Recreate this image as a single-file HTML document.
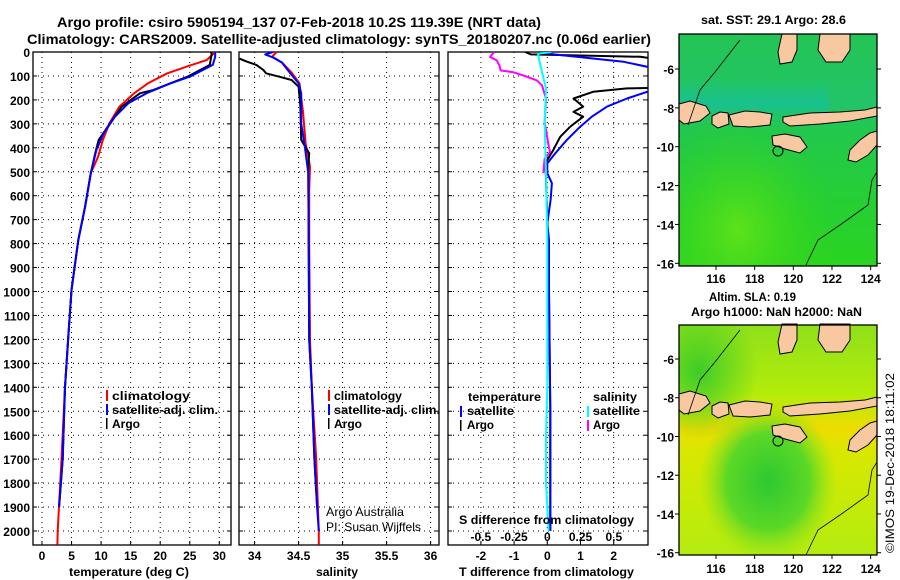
<!DOCTYPE html>
<html><head><meta charset="utf-8"><style>
html,body{margin:0;padding:0;background:#fff;width:900px;height:580px;overflow:hidden}
svg{display:block;font-family:"Liberation Sans",sans-serif;font-weight:bold}
</style></head><body>
<svg id="chart" width="900" height="580" viewBox="0 0 900 580" xmlns="http://www.w3.org/2000/svg">
<defs>
<clipPath id="c1"><rect x="33" y="52" width="198" height="493"/></clipPath>
<clipPath id="c2"><rect x="239" y="52" width="200" height="493"/></clipPath>
<clipPath id="c3"><rect x="448" y="52" width="200" height="493"/></clipPath>
<radialGradient id="g1a" cx="0.3" cy="0.85" r="0.5"><stop offset="0" stop-color="#5ee21a"/><stop offset="1" stop-color="#2fd41c" stop-opacity="0"/></radialGradient>
<linearGradient id="g1" x1="0" y1="0" x2="0" y2="1"><stop offset="0" stop-color="#24c454"/><stop offset="0.3" stop-color="#22c468"/><stop offset="0.42" stop-color="#22c84c"/><stop offset="1" stop-color="#2ad420"/></linearGradient>
<linearGradient id="g1b" x1="0" y1="0" x2="0" y2="1"><stop offset="0" stop-color="#10c0b0" stop-opacity="0"/><stop offset="0.6" stop-color="#10c0b0" stop-opacity="0.55"/><stop offset="1" stop-color="#10c0b0" stop-opacity="0"/></linearGradient>
<linearGradient id="g2" x1="0" y1="0" x2="0" y2="1"><stop offset="0" stop-color="#8ee01a"/><stop offset="0.3" stop-color="#b4ec0a"/><stop offset="0.45" stop-color="#eedc00"/><stop offset="0.55" stop-color="#d8e800"/><stop offset="1" stop-color="#b4ec10"/></linearGradient>
<radialGradient id="g2b" cx="0.45" cy="0.68" r="0.35"><stop offset="0" stop-color="#2ec832"/><stop offset="0.6" stop-color="#5cd826"/><stop offset="1" stop-color="#8ee01a" stop-opacity="0"/></radialGradient>
<radialGradient id="g2c" cx="0.1" cy="0.2" r="0.3"><stop offset="0" stop-color="#3ccc28"/><stop offset="1" stop-color="#3ccc28" stop-opacity="0"/></radialGradient>
</defs>

<text x="57" y="27" font-size="14" textLength="484" lengthAdjust="spacingAndGlyphs">Argo profile: csiro 5905194_137 07-Feb-2018 10.2S 119.39E (NRT data)</text>
<text x="27" y="44" font-size="14" textLength="624" lengthAdjust="spacingAndGlyphs">Climatology: CARS2009. Satellite-adjusted climatology: synTS_20180207.nc (0.06d earlier)</text>

<g id="grid"></g>
<g id="axes"></g>
<g id="series"></g>

<g font-size="12">
<rect x="106" y="390" width="2" height="11" fill="#f00"/><text x="112" y="400" textLength="78" lengthAdjust="spacingAndGlyphs">climatology</text>
<rect x="106" y="404" width="2" height="11" fill="#00f"/><text x="112" y="414" textLength="106" lengthAdjust="spacingAndGlyphs">satellite-adj. clim.</text>
<rect x="106" y="418" width="1.5" height="11" fill="#000"/><text x="112" y="428" textLength="28" lengthAdjust="spacingAndGlyphs">Argo</text>
</g>
<g font-size="12">
<rect x="328" y="390" width="2" height="11" fill="#f00"/><text x="334" y="400" textLength="68" lengthAdjust="spacingAndGlyphs">climatology</text>
<rect x="328" y="404" width="2" height="11" fill="#00f"/><text x="334" y="414" textLength="106" lengthAdjust="spacingAndGlyphs">satellite-adj. clim.</text>
<rect x="328" y="418" width="1.5" height="11" fill="#000"/><text x="334" y="428" textLength="28" lengthAdjust="spacingAndGlyphs">Argo</text>
<text x="326" y="516" font-weight="normal" textLength="78" lengthAdjust="spacingAndGlyphs">Argo Australia</text>
<text x="326" y="531" font-weight="normal" textLength="95" lengthAdjust="spacingAndGlyphs">PI: Susan Wijffels</text>
</g>
<g font-size="12">
<text x="468" y="401" textLength="73" lengthAdjust="spacingAndGlyphs">temperature</text>
<rect x="460" y="406" width="2" height="11" fill="#00f"/><text x="467" y="415" textLength="47" lengthAdjust="spacingAndGlyphs">satellite</text>
<rect x="460" y="420" width="1.5" height="11" fill="#000"/><text x="467" y="429" textLength="27" lengthAdjust="spacingAndGlyphs">Argo</text>
<text x="593" y="401" textLength="44" lengthAdjust="spacingAndGlyphs">salinity</text>
<rect x="587" y="406" width="2" height="11" fill="#0ff"/><text x="593" y="415" textLength="47" lengthAdjust="spacingAndGlyphs">satellite</text>
<rect x="587" y="420" width="2" height="11" fill="#f0f"/><text x="593" y="429" textLength="27" lengthAdjust="spacingAndGlyphs">Argo</text>
</g>

<text x="69" y="576" font-size="12" textLength="120" lengthAdjust="spacingAndGlyphs">temperature (deg C)</text>
<text x="316" y="576" font-size="12" textLength="42" lengthAdjust="spacingAndGlyphs">salinity</text>
<text x="459" y="576" font-size="12" textLength="175" lengthAdjust="spacingAndGlyphs">T difference from climatology</text>
<text x="459" y="524" font-size="12" textLength="175" lengthAdjust="spacingAndGlyphs">S difference from climatology</text>

<g>
<text x="701" y="24" font-size="12" textLength="145" lengthAdjust="spacingAndGlyphs">sat. SST: 29.1 Argo: 28.6</text>
<rect x="679" y="34" width="198" height="232" fill="url(#g1)"/>
<rect x="679" y="34" width="198" height="232" fill="url(#g1a)"/>
<rect x="679" y="80" width="150" height="40" fill="url(#g1b)"/>
<g id="isl1"></g>
</g>
<g>
<text x="709" y="301" font-size="12" textLength="87" lengthAdjust="spacingAndGlyphs">Altim. SLA: 0.19</text>
<text x="691" y="316" font-size="12" textLength="171" lengthAdjust="spacingAndGlyphs">Argo h1000: NaN h2000: NaN</text>
<rect x="679" y="325" width="198" height="230" fill="url(#g2)"/>
<rect x="679" y="325" width="198" height="230" fill="url(#g2b)"/>
<rect x="679" y="325" width="198" height="230" fill="url(#g2c)"/>
<g id="isl2"></g>
</g>
<g id="maxes"></g>
<text transform="translate(894,553) rotate(-90)" font-size="12" font-weight="normal" textLength="180" lengthAdjust="spacingAndGlyphs">©IMOS 19-Dec-2018 18:11:02</text>

<script>
const depthTicks = [0,100,200,300,400,500,600,700,800,900,1000,1100,1200,1300,1400,1500,1600,1700,1800,1900,2000];
const tempTicks = [0,5,10,15,20,25,30];
const salTicks = [34,34.5,35,35.5,36];
const salTickLabels = ["34","34.5","35","35.5","36"];
const tdiffTicks = [-2,-1,0,1,2];
const sdiffTicks = [-0.5,-0.25,0,0.25,0.5];
const sdiffTickLabels = ["-0.5","-0.25","0","0.25","0.5"];

const climTDepth = [0,10,33,61,89,131,172,228,298,367,437,506,646,785,994,1189,1400,1700,2000,2057];
const climT =      [29.2,28.9,27.9,24.5,21.2,17.9,15.6,13.1,11.4,10.3,9.5,8.25,7.3,6.15,5.0,4.45,3.9,3.3,2.65,2.6];
const satTDepth = [0,20,54,103,131,172,214,270,340,409,506,646,785,994,1189,1400,1700,1900];
const satT =      [29.3,29.3,28.9,25.0,21.7,17.7,14.6,12.35,10.4,9.2,8.25,7.3,6.15,5.0,4.45,3.9,3.5,2.9];
const argoTDepth = [0,10,54,103,159,172,228,298,367,423,506,646,785,994,1189,1400,1700,1900];
const argoT =      [28.6,28.7,28.4,24.6,18.8,16.6,13.5,11.5,9.6,9.0,8.25,7.3,6.15,5.0,4.45,3.9,3.5,2.9];

const climSDepth = [0,19,44,86,131,250,380,479,576,800,1200,1400,1700,2000,2057];
const climS =      [34.25,34.20,34.31,34.42,34.51,34.55,34.58,34.63,34.62,34.62,34.63,34.65,34.70,34.73,34.73];
const satSDepth = [0,10,23,44,86,131,172,298,395,506,1200,1400,1700,1900,2000];
const satS =      [34.21,34.12,34.21,34.31,34.40,34.50,34.53,34.53,34.57,34.61,34.62,34.65,34.68,34.71,34.73];
const argoSDepth = [28,40,54,75,89,103,117,145,228,367,423,479,506,1200,1400,1700,1900];
const argoS =      [33.83,33.91,34.02,34.10,34.13,34.28,34.42,34.50,34.52,34.53,34.62,34.61,34.61,34.62,34.65,34.68,34.71];

const satTdDepth = [0,10,41,70,153,194,228,270,312,367,423,465,506,548,618,715,785,1000,1500,2000];
const satTd =      [-0.2,0.2,2.3,3.3,3.3,2.4,1.8,1.34,0.99,0.59,0.24,0.0,0.0,0.14,0.1,0.0,0.05,0.05,0.09,0.09];
const argoTdDepth = [0,10,20,30,150,152,166,194,228,250,270,312,354,409,451,480,700,1000,1500,2000];
const argoTd =      [-0.66,-0.5,2.8,3.3,3.3,2.4,1.38,0.79,1.08,0.79,1.08,0.69,0.39,0.18,0.0,-0.05,0.0,0.05,0.09,0.09];
const satSdDepth = [0,7,35,84,153,292,500,785,1000,1400,1600,1800,2000];
const satSd =      [0.03,-0.07,-0.06,-0.04,-0.01,-0.02,-0.01,0.0,0.0,0.0,-0.01,-0.01,0.01];
const argoSdDepth = [0,21,35,56,77,84,98,118,139,195,292,390,418,446,506];
const argoSd =      [-0.4,-0.43,-0.38,-0.36,-0.35,-0.26,-0.18,-0.08,-0.04,-0.01,-0.02,0.01,0.02,-0.02,-0.03];

const mapLon = [116,118,120,122,124];
const mapLat = [-6,-8,-10,-12,-14,-16];

const yD = d => 52 + d*0.2395;
const xT = t => 42 + t*5.91;
const xS = s => 254.6 + (s-34)*88;
const xTd = t => 547.3 + t*33.2;
const xSd = s => 547.3 + s*133;
const lonX = l => 716 + (l-116)*19.33;
const lat1 = l => 69 + (-6-l)*19.43;
const lat2 = l => 359 + (-6-l)*19.37;

const NS = 'http://www.w3.org/2000/svg';
function mk(tag, attrs, parent){ const e=document.createElementNS(NS,tag); for(const k in attrs) e.setAttribute(k,attrs[k]); parent.appendChild(e); return e; }
const grid=document.getElementById('grid'), axes=document.getElementById('axes'), series=document.getElementById('series');

const panels=[{x0:33,x1:231,ticks:tempTicks,labels:tempTicks.map(String),sx:xT,name:'temperature'},
              {x0:239,x1:439,ticks:salTicks,labels:salTickLabels,sx:xS,name:'salinity'},
              {x0:448,x1:648,ticks:tdiffTicks,labels:tdiffTicks.map(String),sx:xTd,name:'t-difference'}];
panels.forEach(p=>{
  depthTicks.forEach(d=>{ if(d===0) return;
    const l=mk('line',{x1:p.x0,x2:p.x1,y1:yD(d),y2:yD(d),stroke:'#000','stroke-width':1,'stroke-dasharray':'1,4'},grid);
    
    
    mk('line',{x1:p.x0,x2:p.x0+4,y1:yD(d),y2:yD(d),stroke:'#000'},axes);
    mk('line',{x1:p.x1-4,x2:p.x1,y1:yD(d),y2:yD(d),stroke:'#000'},axes);
  });
  p.ticks.forEach((t,i)=>{
    const x=p.sx(t);
    const l=mk('line',{x1:x,x2:x,y1:52,y2:545,stroke:'#000','stroke-dasharray':'1,4'},grid);
    
    
    mk('line',{x1:x,x2:x,y1:545,y2:541,stroke:'#000'},axes);
    const tx=mk('text',{x:x,y:560,'text-anchor':'middle','font-size':12},axes);
    tx.textContent=p.labels[i];
    
    
  });
  const r=mk('rect',{x:p.x0,y:52,width:p.x1-p.x0,height:493,fill:'none',stroke:'#000','stroke-width':1.3},axes);
  
  
});
sdiffTicks.forEach((s,i)=>{
  const t=mk('text',{x:xSd(s),y:541,'text-anchor':'middle','font-size':12},axes);
  t.textContent=sdiffTickLabels[i];
  
  
});
depthTicks.forEach(d=>{
  const t=mk('text',{x:30,y:yD(d)+5,'text-anchor':'end','font-size':12},axes);
  t.textContent=String(d);
  
  
});

function line(depths, vals, sx, color, clip, name, w){
  const pts=depths.map((d,i)=>sx(vals[i]).toFixed(1)+','+yD(d).toFixed(1)).join(' ');
  const p=mk('polyline',{points:pts,fill:'none',stroke:color,'stroke-width':w||2,'clip-path':'url(#'+clip+')','stroke-linejoin':'round'},series);
  
  
}
line(climTDepth,climT,xT,'#f00','c1','temp-climatology-line');
line(argoTDepth,argoT,xT,'#000','c1','temp-argo-line');
line(satTDepth,satT,xT,'#00f','c1','temp-satellite-line');
line(climSDepth,climS,xS,'#f00','c2','sal-climatology-line');
line(argoSDepth,argoS,xS,'#000','c2','sal-argo-line');
line(satSDepth,satS,xS,'#00f','c2','sal-satellite-line');
line(argoTdDepth,argoTd,xTd,'#000','c3','tdiff-argo-line');
line(satTdDepth,satTd,xTd,'#00f','c3','tdiff-satellite-line');
line(argoSdDepth,argoSd,xSd,'#f0f','c3','sdiff-argo-line');
line(satSdDepth,satSd,xSd,'#0ff','c3','sdiff-satellite-line');

const islands=[
 [[679,104],[690,101],[706,106],[710,113],[700,121],[684,124],[679,120]],
 [[712,116],[720,112],[728,113],[729,124],[718,128],[712,124]],
 [[729,115],[745,111],[760,112],[772,114],[770,125],[750,127],[733,126]],
 [[783,117],[810,113],[840,112],[865,110],[877,107],[877,116],[850,121],[820,124],[790,126],[783,122]],
 [[772,136],[785,134],[800,137],[807,147],[800,153],[785,149],[773,145]],
 [[850,150],[860,140],[870,133],[877,131],[877,145],[868,155],[856,162],[848,160]],
 [[782,34],[797,34],[797,50],[792,62],[780,64],[778,52]],
 [[820,34],[850,34],[850,50],[842,62],[826,62],[818,50]]
];
function drawIsl(g, off){
  islands.forEach(poly=>{
    const p=mk('polygon',{points:poly.map(q=>q[0]+','+(q[1]+off)).join(' '),fill:'#f8c8a0',stroke:'#000','stroke-width':1},g);
    
    
  });
  const c=mk('circle',{cx:778,cy:151+off,r:5,fill:'none',stroke:'#000','stroke-width':1},g);
  
  
  const s=mk('polyline',{points:`688,${125+off} 700,${90+off} 715,${72+off} 740,${40+off}`,fill:'none',stroke:'#000','stroke-width':0.8},g);
  
  
  const s2=mk('polyline',{points:`806,${265+off} 818,${240+off} 840,${225+off} 868,${205+off} 872,${180+off} 877,${172+off}`,fill:'none',stroke:'#000','stroke-width':0.8},g);
  
  
}
drawIsl(document.getElementById('isl1'),0);
drawIsl(document.getElementById('isl2'),290);
const maxes=document.getElementById('maxes');
[[34,266,lat1,283],[325,555,lat2,573]].forEach(m=>{
  const r=mk('rect',{x:679,y:m[0],width:198,height:m[1]-m[0],fill:'none',stroke:'#000','stroke-width':1.3},maxes);
  
  
  mapLon.forEach(l=>{ const t=mk('text',{x:lonX(l),y:m[3],'text-anchor':'middle','font-size':12},maxes); t.textContent=String(l);
    
    
    mk('line',{x1:lonX(l),x2:lonX(l),y1:m[1],y2:m[1]+4,stroke:'#000'},maxes); });
  mapLat.forEach(l=>{ const t=mk('text',{x:674,y:m[2](l)+5,'text-anchor':'end','font-size':12},maxes); t.textContent=String(l);
    
    
    mk('line',{x1:675,x2:679,y1:m[2](l),y2:m[2](l),stroke:'#000'},maxes);
    mk('line',{x1:877,x2:881,y1:m[2](l),y2:m[2](l),stroke:'#000'},maxes); });
});
</script>
</svg>
</body></html>
